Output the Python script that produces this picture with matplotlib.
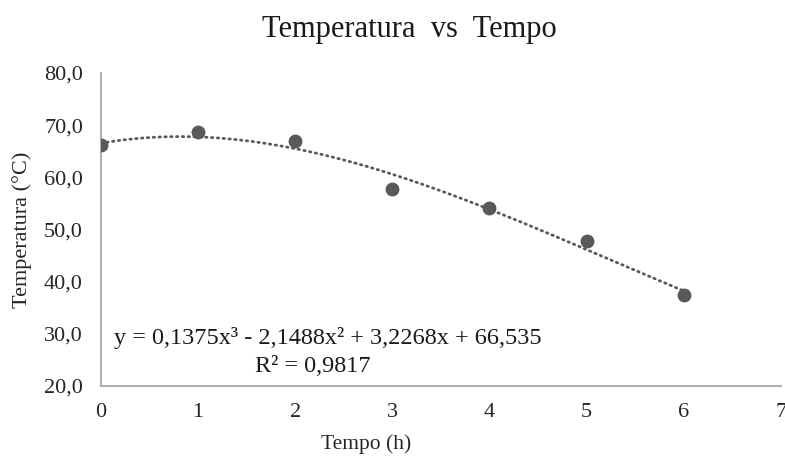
import numpy as np
import matplotlib.pyplot as plt

# data
tempo = [0, 1, 2, 3, 4, 5, 6]
temperatura = [66.1, 68.6, 67.0, 57.7, 54.1, 47.7, 37.5]
# trendline coefficients as printed on the chart (x^3, x^2, x, 1)
coef = [0.1375, -2.1488, 3.2268, 66.535]
eq_text = "y = 0,1375x³ - 2,1488x² + 3,2268x + 66,535"
r2_text = "R² = 0,9817"
y_ticks = [20, 30, 40, 50, 60, 70, 80]
x_ticks = [0, 1, 2, 3, 4, 5, 6, 7]

plt.rcParams['font.family'] = ['Liberation Serif', 'DejaVu Serif']

fig = plt.figure(figsize=(7.85, 4.57), dpi=100)
ax = fig.add_axes([0.1287, 0.1554, 0.866, 0.6849])

# polynomial trendline
xs = np.linspace(0, 6, 200)
ax.plot(xs, np.polyval(coef, xs), color='#595959', linestyle=(0, (0.5, 1.6)),
        linewidth=2.0, dash_capstyle='round', zorder=2)
ax.scatter(tempo, temperatura, s=100, color='#595959', zorder=3, linewidths=0)

ax.set_xlim(0, 7)
ax.set_ylim(20, 80)
ax.set_xticks(x_ticks)
ax.set_yticks(y_ticks)
ax.set_yticklabels([f"{v:.1f}".replace('.', ',') for v in y_ticks])
ax.tick_params(length=0, labelsize=16, colors='#262626')
ax.tick_params(axis='x', pad=12)
ax.tick_params(axis='y', pad=13)

for s in ['top', 'right']:
    ax.spines[s].set_visible(False)
for s in ['left', 'bottom']:
    ax.spines[s].set_color('#b0b0b0')
    ax.spines[s].set_linewidth(1.5)

fig.text(0.522, 0.935, "Temperatura  vs  Tempo", ha='center', va='center',
         fontsize=22, color='#1a1a1a')
fig.text(0.466, 0.028, "Tempo (h)", ha='center', va='center', fontsize=15.5,
         color='#262626')
fig.text(0.028, 0.497, "Temperatura (°C)", ha='center', va='center',
         rotation=90, fontsize=16, color='#262626')

fig.text(0.417, 0.26, eq_text, ha='center', va='center', fontsize=17.5,
         color='#1a1a1a')
fig.text(0.399, 0.197, r2_text, ha='center', va='center', fontsize=17.5,
         color='#1a1a1a')

fig.savefig('out.png', dpi=100)
